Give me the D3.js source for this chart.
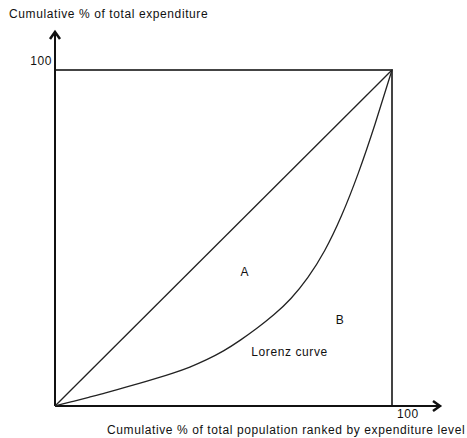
<!DOCTYPE html>
<html>
<head>
<meta charset="utf-8">
<script src="https://cdn.jsdelivr.net/npm/d3@7"></script>
<style>
  body { margin: 0; background: #fff; }
  text { font-family: "Liberation Sans", Arial, sans-serif; font-size: 12px; fill: #111; letter-spacing: 0.6px; }
</style>
</head>
<body>
<div id="chart"></div>
<script>
// population share (x) and expenditure share (y) along the Lorenz curve
const lorenzPop = [0, 5, 10, 15, 20, 25, 30, 35, 40, 45, 50, 55, 60, 65, 70, 75, 80, 85, 90, 95, 100];
const lorenzExp = [0, 1.3, 2.6, 3.9, 5.3, 6.7, 8.2, 9.8, 11.6, 13.8, 16.4, 19.6, 23.2, 27.2, 32, 38.2, 46.2, 56.6, 69.3, 84, 100];
const equality = [0, 100];
const xTicks = [100];
const yTicks = [100];
const areaLabels = [
  {name: "A", x: 56.3, y: 38.7},
  {name: "B", x: 84.6, y: 24.4},
  {name: "Lorenz curve", x: 69.6, y: 14.9}
];
const xTitle = "Cumulative % of total population ranked by expenditure level";
const yTitle = "Cumulative % of total expenditure";

var width = 467, height = 438;
var margin = {top: 70, right: 75, bottom: 32, left: 55};

const svg = d3.select('#chart')
  .append('svg')
  .attr('width', width)
  .attr('height', height);

var x = d3.scaleLinear().domain([0, 100]).range([margin.left, width - margin.right]);
var y = d3.scaleLinear().domain([0, 100]).range([height - margin.bottom, margin.top]);

// box top and right
svg.append("path")
  .attr("d", "M" + x(0) + "," + y(100) + "H" + x(100) + "V" + y(0))
  .attr("fill", "none")
  .attr("stroke", "#444")
  .attr("stroke-width", 2);

// axes with arrows
svg.append("line")
  .attr("x1", x(0)).attr("y1", y(0))
  .attr("x2", x(0)).attr("y2", 31)
  .attr("stroke", "#111").attr("stroke-width", 2);
svg.append("line")
  .attr("x1", x(0)).attr("y1", y(0))
  .attr("x2", 441).attr("y2", y(0))
  .attr("stroke", "#111").attr("stroke-width", 2);
svg.append("path")
  .attr("d", "M" + (x(0) - 5) + ",39L" + x(0) + ",32L" + (x(0) + 5) + ",39")
  .attr("fill", "none").attr("stroke", "#111").attr("stroke-width", 2.5);
svg.append("path")
  .attr("d", "M433," + (y(0) - 5) + "L440," + y(0) + "L433," + (y(0) + 5))
  .attr("fill", "none").attr("stroke", "#111").attr("stroke-width", 2.5);

// line of equality
svg.append("line")
  .attr("x1", x(equality[0])).attr("y1", y(equality[0]))
  .attr("x2", x(equality[1])).attr("y2", y(equality[1]))
  .attr("stroke", "#222").attr("stroke-width", 1.3);

// lorenz curve
var line = d3.line()
  .x(function(d, i) { return x(lorenzPop[i]); })
  .y(function(d) { return y(d); })
  .curve(d3.curveNatural);
svg.append("path")
  .datum(lorenzExp)
  .attr("d", line)
  .attr("fill", "none")
  .attr("stroke", "#222")
  .attr("stroke-width", 1.3);

// ticks
svg.selectAll(".ytick").data(yTicks).enter().append("text")
  .attr("x", x(0) - 3).attr("y", function(d) { return y(d) - 5; })
  .attr("text-anchor", "end")
  .text(function(d) { return d; });
svg.selectAll(".xtick").data(xTicks).enter().append("text")
  .attr("x", function(d) { return x(d) + 5; }).attr("y", y(0) + 12)
  .text(function(d) { return d; });

// labels
svg.selectAll(".lab").data(areaLabels).enter().append("text")
  .attr("x", function(d) { return x(d.x); })
  .attr("y", function(d) { return y(d.y); })
  .attr("text-anchor", "middle")
  .text(function(d) { return d.name; });

svg.append("text").attr("x", 9).attr("y", 18).text(yTitle);
svg.append("text").attr("x", 107).attr("y", 434).text(xTitle);
</script>
</body>
</html>
